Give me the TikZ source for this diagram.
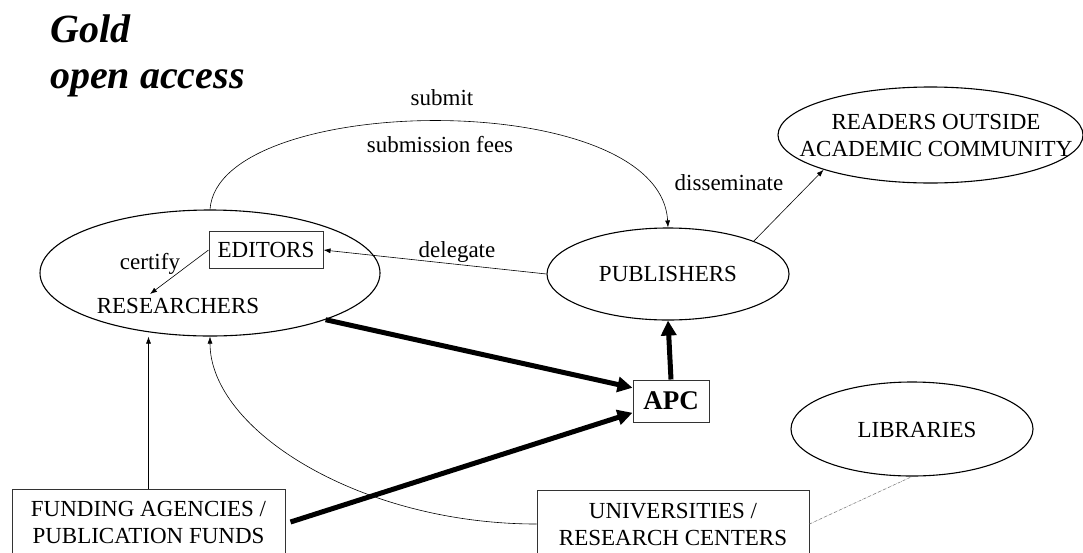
\documentclass[tikz,border=0pt]{standalone}
\usepackage{fontspec}
\setmainfont{Liberation Serif}
\usetikzlibrary{arrows.meta,shapes.geometric,calc}
\begin{document}
\begin{tikzpicture}[x=1pt,y=-1pt,
  lbl/.style={font=\fontsize{23}{27}\selectfont, inner sep=0pt},
  ell/.style={draw, ellipse, line width=1.1pt, inner sep=0pt, font=\fontsize{23}{27}\selectfont},
  bx/.style={draw=black!80, line width=1pt, font=\fontsize{23}{27}\selectfont, align=center, inner sep=0pt},
  thinarrow/.style={line width=0.6pt, -{Latex[length=7pt,width=5pt]}},
  thickarrow/.style={line width=5pt, -{Triangle[length=15pt,width=15pt]}},
]
\useasboundingbox (0,0) rectangle (1083,552);
% title
\node[inner sep=0pt, font=\fontsize{40}{46}\selectfont\bfseries\itshape, anchor=base west, align=left] (title) at (50,88) {Gold\\open access};
% nodes
\node[ell, minimum width=340pt, minimum height=126pt] (res) at (210,273) {};
\node[lbl, anchor=base] (restext) at (178,313) {RESEARCHERS};
\node[bx, minimum width=114pt, minimum height=37pt] (editors) at (266,250) {EDITORS};
\node[lbl, anchor=base] (certify) at (150,269) {certify};
\node[ell, minimum width=242pt, minimum height=92pt] (pubs) at (668,274) {PUBLISHERS};
\node[ell, minimum width=305pt, minimum height=96pt] (readers) at (930.5,135) {};
\node[lbl, align=center] (readtext) at (936,135) {READERS OUTSIDE\\ACADEMIC COMMUNITY};
\node[ell, minimum width=242pt, minimum height=94pt] (lib) at (912,429) {};
\node[lbl, anchor=base] (libtext) at (917,437) {LIBRARIES};
\node[bx, minimum width=76pt, minimum height=42pt, font=\fontsize{27}{30}\selectfont\bfseries] (apc) at (671,401) {APC};
\node[bx, minimum width=273pt, minimum height=66pt] (fund) at (148.5,522) {FUNDING AGENCIES /\\PUBLICATION FUNDS};
\node[bx, minimum width=272pt, minimum height=68pt] (univ) at (673,524) {UNIVERSITIES /\\RESEARCH CENTERS};
% labels
\node[lbl, anchor=base] (submit) at (442,105) {submit};
\node[lbl, anchor=base] (subfees) at (440,152) {submission fees};
\node[lbl, anchor=base] (deleg) at (457,257) {delegate};
\node[lbl, anchor=base] (dissem) at (729,190) {disseminate};
% connectors
\coordinate (certend) at (150,294);
\draw[thinarrow] (editors.west) -- (certend);
\draw[thinarrow] (pubs.west) -- (editors.east);
\draw[thinarrow] (res.north) .. controls (218,92) and (660,86) .. (pubs.north);
\draw[thinarrow] (pubs.21) -- (readers.198);
\draw[thinarrow] (fund.north) -- (fund.north |- res.south);
\draw[thinarrow] (univ.west) .. controls (360,524) and (210,430) .. (res.south);
\draw[densely dashdotted, gray, line width=0.6pt] (univ.east) -- (lib.south);
\draw[thickarrow] (res.-22) -- (apc.161);
\draw[thickarrow] ($(fund.east)+(5,0)$) -- (apc.197);
\draw[thickarrow] (apc.north) -- (pubs.south);
\end{tikzpicture}
\end{document}
